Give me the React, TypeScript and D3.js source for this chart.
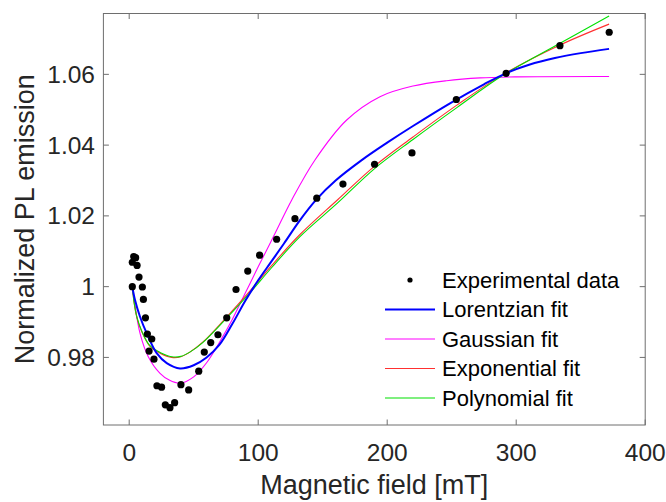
import React from "react";
import * as d3 from "d3";

// ---- Data ----
const fieldData = [2.4, 3.5, 5.0, 2.4, 6.1, 7.6, 10.2, 11.0, 12.6, 14.1, 17.5, 15.4, 19.2, 21.5, 25.1, 28.0, 31.6, 35.2, 40.1, 46.1, 53.9, 58.2, 63.2, 68.8, 75.6, 82.8, 91.9, 101.1, 114.3, 128.5, 145.4, 165.7, 190.2, 219.2, 253.6, 292.2, 333.9, 372.1];
const plEmission = [1.0000, 1.0085, 1.0082, 1.0069, 1.0060, 1.0027, 0.9999, 0.9964, 0.9912, 0.9866, 0.9852, 0.9818, 0.9795, 0.9720, 0.9716, 0.9666, 0.9658, 0.9672, 0.9723, 0.9708, 0.9761, 0.9815, 0.9842, 0.9864, 0.9912, 0.9992, 1.0044, 1.0089, 1.0134, 1.0192, 1.0250, 1.0290, 1.0346, 1.0378, 1.0529, 1.0603, 1.0681, 1.0719];

const lorentzX = [2.4, 4.5, 8.4, 13.6, 21.3, 29.1, 39.4, 50, 60, 70, 80, 90, 100, 110, 120, 132, 145, 160, 180, 200, 220, 250, 275, 292, 310, 330, 350, 372];
const lorentzY = [1.0000, 0.9962, 0.9915, 0.9868, 0.9812, 0.9784, 0.9769, 0.9778, 0.9800, 0.9836, 0.9895, 0.9960, 1.0018, 1.0070, 1.0122, 1.0186, 1.0246, 1.0300, 1.0357, 1.0407, 1.0454, 1.0521, 1.0572, 1.0603, 1.0627, 1.0646, 1.0660, 1.0672];

const gaussX = [2.4, 4, 8.4, 14.8, 23.9, 31, 39.4, 50, 60, 70, 80, 90, 100, 113, 126, 144, 168.6, 194.4, 220, 246, 272, 300, 372];
const gaussY = [1.0000, 0.9960, 0.9868, 0.9802, 0.9755, 0.9736, 0.9727, 0.9745, 0.9785, 0.9843, 0.9908, 0.9982, 1.0056, 1.0150, 1.0245, 1.0358, 1.0471, 1.0537, 1.0567, 1.0582, 1.0590, 1.0593, 1.0594];

const expX = [2.4, 4.0, 6.0, 9.7, 16.1, 23.9, 33, 40, 47, 57, 75, 93, 110, 132, 162, 190, 220, 254, 290, 334, 372];
const expY = [1.0000, 0.9950, 0.9912, 0.9873, 0.9831, 0.9812, 0.9800, 0.9802, 0.9815, 0.9843, 0.9912, 0.9985, 1.0058, 1.0146, 1.0247, 1.0340, 1.0423, 1.0513, 1.0600, 1.0683, 1.0742];

const polyX = [2.4, 4.0, 6.0, 9.7, 16.1, 23.9, 33, 40, 47, 57, 75, 93, 110, 132, 162, 190, 220, 254, 290, 334, 372];
const polyY = [1.0000, 0.9951, 0.9914, 0.9875, 0.9833, 0.9814, 0.9802, 0.9803, 0.9815, 0.9842, 0.9909, 0.9980, 1.0052, 1.0140, 1.0238, 1.0333, 1.0416, 1.0506, 1.0598, 1.0688, 1.0765];

const xTicks = [0, 100, 200, 300, 400];
const yTicks = [0.98, 1.0, 1.02, 1.04, 1.06];
const yTickLabels = ["0.98", "1", "1.02", "1.04", "1.06"];

const legendLabels = ["Experimental data", "Lorentzian fit", "Gaussian fit", "Exponential fit", "Polynomial fit"];

const FONT = "'Liberation Sans', Arial, Helvetica, sans-serif";
const TEXT = "#262626";
const AXIS = "#6e6e6e";

export default function App() {
  const W = 666, H = 502;
  const left = 103.4, right = 645.2, top = 13.5, bottom = 425;
  const x = d3.scaleLinear().domain([-20, 400]).range([left, right]);
  const y = d3.scaleLinear().domain([0.9609, 1.0772]).range([bottom, top]);

  const line = d3
    .line<[number, number]>()
    .x((d) => x(d[0]))
    .y((d) => y(d[1]))
    .curve(d3.curveCatmullRom.alpha(0.5));

  const zip = (xs: number[], ys: number[]) => xs.map((v, i) => [v, ys[i]] as [number, number]);

  const fits = [
    { xs: lorentzX, ys: lorentzY, color: "#0000ff", w: 2 },
    { xs: gaussX, ys: gaussY, color: "#ff00ff", w: 1.1 },
    { xs: expX, ys: expY, color: "#ff3030", w: 1.1 },
    { xs: polyX, ys: polyY, color: "#00e000", w: 1.1 },
  ];
  const drawOrder = [1, 2, 3, 0];

  const tickLen = 5.5;
  const legX0 = 385, legX1 = 435, legTextX = 442;
  const legY0 = 280, legDy = 29.5;

  return (
    <svg width={W} height={H} style={{ position: "absolute", left: 0, top: 0, background: "#fff" }}>
      <rect x={0} y={0} width={W} height={H} fill="#fff" />
      {/* fits */}
      {drawOrder.map((i) => {
        const f = fits[i];
        return (
          <path key={"fit" + i} d={line(zip(f.xs, f.ys)) || ""} fill="none" stroke={f.color} strokeWidth={f.w} />
        );
      })}
      {/* data */}
      {fieldData.map((fx, i) => (
        <circle key={"pt" + i} cx={x(fx)} cy={y(plEmission[i])} r={3.6} fill="#000" />
      ))}
      {/* axes box */}
      <rect x={left} y={top} width={right - left} height={bottom - top} fill="none" stroke={AXIS} strokeWidth={1} />
      {xTicks.map((t) => (
        <g key={"xt" + t}>
          <line x1={x(t)} x2={x(t)} y1={bottom} y2={bottom - tickLen} stroke={AXIS} />
          <line x1={x(t)} x2={x(t)} y1={top} y2={top + tickLen} stroke={AXIS} />
          <text x={x(t)} y={461} textAnchor="middle" fontFamily={FONT} fontSize={24.5} fill={TEXT}>
            {t}
          </text>
        </g>
      ))}
      {yTicks.map((t, i) => (
        <g key={"yt" + i}>
          <line x1={left} x2={left + tickLen} y1={y(t)} y2={y(t)} stroke={AXIS} />
          <line x1={right} x2={right - tickLen} y1={y(t)} y2={y(t)} stroke={AXIS} />
          <text x={95} y={y(t)} dy="0.35em" textAnchor="end" fontFamily={FONT} fontSize={24.5} fill={TEXT}>
            {yTickLabels[i]}
          </text>
        </g>
      ))}
      <text x={(left + right) / 2} y={494} textAnchor="middle" fontFamily={FONT} fontSize={27} fill={TEXT}>
        Magnetic field [mT]
      </text>
      <text
        transform={`translate(34, ${(top + bottom) / 2}) rotate(-90)`}
        textAnchor="middle"
        fontFamily={FONT}
        fontSize={27}
        fill={TEXT}
      >
        Normalized PL emission
      </text>
      {/* legend */}
      <circle cx={(legX0 + legX1) / 2} cy={legY0} r={2.6} fill="#000" />
      <text x={legTextX} y={legY0} dy="0.35em" fontFamily={FONT} fontSize={22} fill="#000">
        {legendLabels[0]}
      </text>
      {fits.map((f, i) => (
        <g key={"leg" + i}>
          <line x1={legX0} x2={legX1} y1={legY0 + legDy * (i + 1)} y2={legY0 + legDy * (i + 1)} stroke={f.color} strokeWidth={f.w} />
          <text x={legTextX} y={legY0 + legDy * (i + 1)} dy="0.35em" fontFamily={FONT} fontSize={22} fill="#000">
            {legendLabels[i + 1]}
          </text>
        </g>
      ))}
    </svg>
  );
}
